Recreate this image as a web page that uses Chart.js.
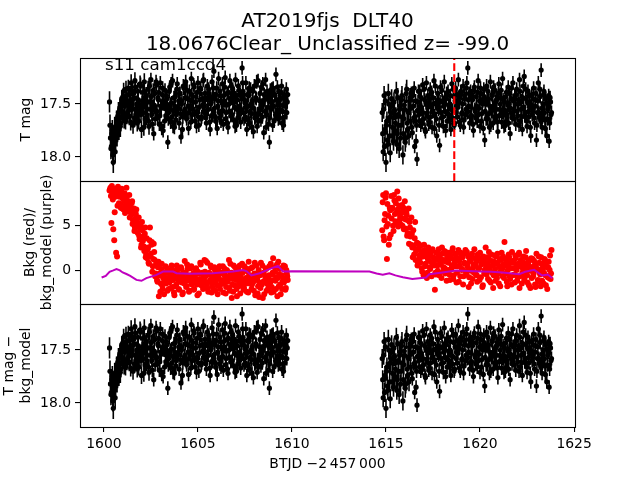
<!DOCTYPE html>
<html>
<head>
<meta charset="utf-8">
<script src="https://cdn.jsdelivr.net/npm/chart.js@4/dist/chart.umd.min.js"></script>
<style>
  html, body { margin: 0; padding: 0; background: #fff; }
  #c { display: block; }
</style>
</head>
<body>
<canvas id="c" width="640" height="480"></canvas>
<script>
// ---------------- DATA ----------------
const TITLE_LINES = ['AT2019fjs  DLT40', '18.0676Clear_ Unclassified z= -99.0'];
const ANNOTATION = 's11 cam1ccd4';
const X_LABEL = 'BTJD \u22122\u2009457\u2009000';
const Y_LABEL_TOP = 'T mag';
const Y_LABEL_MID = ['Bkg (red)/', 'bkg_model (purple)'];
const Y_LABEL_BOT = ['T mag \u2212', 'bkg_model'];

const X_RANGE = [1598.73, 1625.05];
const MAG_RANGE = [17.066, 18.226];
const BKG_RANGE = [-3.67, 9.95];
const MARK_TIME = 1618.63;   // red dashed vertical line

// sector 1, cadence group A
const SEG1_T = [
1600.30,1600.35,1600.40,1600.45,1600.50,1600.55,1600.60,1600.65,1600.70,1600.75,
1600.80,1600.85,1600.90,1600.95,1601.00,1601.05,1601.10,1601.15,1601.20,1601.25,
1601.30,1601.35,1601.40,1601.45,1601.50,1601.55,1601.60,1601.65,1601.70,1601.75,
1601.80,1601.85,1601.90,1601.95,1602.00,1602.05,1602.10,1602.15,1602.20,1602.25,
1602.30,1602.35,1602.40,1602.45,1602.50,1602.55,1602.60,1602.65,1602.70,1602.75,
1602.80,1602.85,1602.90,1602.95,1603.00,1603.05,1603.10,1603.15,1603.20,1603.25,
1603.30,1603.35,1603.40,1603.45,1603.50,1603.55,1603.60,1603.65,1603.70,1603.75,
1603.80,1603.85,1603.90,1603.95,1604.00,1604.05,1604.10,1604.15,1604.20,1604.25,
1604.30,1604.35,1604.40,1604.45,1604.50,1604.55,1604.60,1604.65,1604.70,1604.75,
1604.80,1604.85,1604.90,1604.95,1605.00,1605.05,1605.10,1605.15,1605.20,1605.25,
1605.30,1605.35,1605.40,1605.45,1605.50,1605.55,1605.60,1605.65,1605.70,1605.75,
1605.80,1605.85,1605.90,1605.95,1606.00,1606.05,1606.10,1606.15,1606.20,1606.25,
1606.30,1606.35,1606.40,1606.45,1606.50,1606.55,1606.60,1606.65,1606.70,1606.75,
1606.80,1606.85,1606.90,1606.95,1607.00,1607.05,1607.10,1607.15,1607.20,1607.25,
1607.30,1607.35,1607.40,1607.45,1607.50,1607.55,1607.60,1607.65,1607.70,1607.75,
1607.80,1607.85,1607.90,1607.95,1608.00,1608.05,1608.10,1608.15,1608.20,1608.25,
1608.30,1608.35,1608.40,1608.45,1608.50,1608.55,1608.60,1608.65,1608.70,1608.75,
1608.80,1608.85,1608.90,1608.95,1609.00,1609.05,1609.10,1609.15,1609.20,1609.25,
1609.30,1609.35,1609.40,1609.45,1609.50,1609.55,1609.60,1609.65,1609.70,1609.75];

const SEG1_MAG = [
17.48,17.82,17.90,17.75,18.05,17.86,17.95,17.70,17.80,17.62,
17.74,17.55,17.68,17.45,17.60,17.38,17.52,17.66,17.42,17.58,
17.35,17.62,17.48,17.30,17.55,17.70,17.44,17.28,17.60,17.50,
17.38,17.66,17.52,17.33,17.74,17.47,17.58,17.29,17.64,17.42,
17.55,17.36,17.71,17.48,17.27,17.60,17.52,17.78,17.40,17.57,
17.32,17.63,17.46,17.69,17.30,17.54,17.41,17.75,17.50,17.37,
17.61,17.45,17.86,17.58,17.34,17.67,17.49,17.28,17.56,17.72,
17.43,17.60,17.31,17.53,17.68,17.40,17.81,17.47,17.62,17.35,
17.55,17.29,17.64,17.45,17.73,17.38,17.52,17.26,17.60,17.48,
17.34,17.66,17.43,17.57,17.30,17.70,17.46,17.36,17.62,17.51,
17.27,17.58,17.44,17.68,17.33,17.55,17.40,17.74,17.48,17.29,
17.61,17.19,17.45,17.66,17.35,17.52,17.26,17.63,17.42,17.57,
17.31,17.69,17.47,17.25,17.58,17.40,17.72,17.50,17.28,17.61,
17.44,17.36,17.65,17.53,17.27,17.70,17.46,17.33,17.59,17.41,
17.55,17.16,17.38,17.64,17.49,17.30,17.74,17.52,17.42,17.68,
17.36,17.59,17.47,17.76,17.33,17.62,17.45,17.71,17.28,17.56,
17.40,17.65,17.51,17.31,17.77,17.46,17.27,17.60,17.43,17.69,
17.86,17.37,17.55,17.48,17.35,17.66,17.42,17.22,17.58,17.50,
17.38,17.63,17.45,17.33,17.57,17.70,17.41,17.52,17.36,17.48];

const SEG1_BKG = [
8.9,9.2,5.3,8.6,4.6,3.4,8.2,2.0,1.6,9.3,
7.5,8.8,7.0,9.1,8.0,6.8,8.6,7.3,9.2,7.8,
6.6,8.4,7.1,6.2,7.7,5.6,6.9,4.8,6.3,5.4,
4.2,5.9,3.5,5.0,2.9,4.5,3.8,2.2,4.8,1.8,
1.4,2.6,0.8,4.8,1.9,3.2,0.5,3.0,1.2,-0.3,
0.6,-1.2,1.0,-0.5,-2.3,0.2,-1.6,-0.8,-2.6,-0.2,
-1.4,0.3,-0.9,-2.0,-0.3,-1.1,0.6,-1.8,-0.6,-2.7,
-0.4,-1.5,0.1,-1.0,-2.1,-0.7,0.4,-1.3,-2.4,-0.2,
1.1,-0.9,-1.7,0.2,-0.5,-2.2,-1.0,0.5,-1.4,-0.3,
-2.0,-0.8,0.3,-1.5,-0.1,-2.5,-0.9,0.7,-1.2,-0.4,
-1.9,1.2,-0.6,-1.3,0.9,-2.3,-0.2,-1.0,0.4,-1.7,
-0.5,-2.1,0.1,-1.1,-0.3,-2.6,-0.8,0.5,-1.5,-0.2,
-1.2,-2.4,0.3,-0.7,-1.8,0.0,-1.0,1.2,-2.2,-0.4,
-3.0,-0.9,0.6,-1.6,-0.2,-2.0,-0.6,0.2,-1.3,-2.5,
-0.3,0.8,-1.1,-1.9,0.1,-0.8,-2.3,-0.1,1.0,-1.4,
-0.6,-2.0,0.4,-1.2,-0.3,-2.7,0.6,-0.9,-1.7,-2.9,
-0.5,0.9,-1.5,-3.0,-0.2,-1.1,0.3,-2.2,-0.7,-1.6,
0.5,-1.3,-2.4,-0.4,1.4,-1.0,-0.1,-2.0,0.7,-0.8,
-1.7,0.2,-2.6,-0.5,-1.2,0.6,-0.9,-2.1,0.1,-0.6];

// sector 1, cadence group B (in between group A)
const SEG1B_T = [
1600.325,1600.375,1600.425,1600.475,1600.525,1600.575,1600.625,1600.675,1600.725,1600.775,
1600.825,1600.875,1600.925,1600.975,1601.025,1601.075,1601.125,1601.175,1601.225,1601.275,
1601.325,1601.375,1601.425,1601.475,1601.525,1601.575,1601.625,1601.675,1601.725,1601.775,
1601.825,1601.875,1601.925,1601.975,1602.025,1602.075,1602.125,1602.175,1602.225,1602.275,
1602.325,1602.375,1602.425,1602.475,1602.525,1602.575,1602.625,1602.675,1602.725,1602.775,
1602.825,1602.875,1602.925,1602.975,1603.025,1603.075,1603.125,1603.175,1603.225,1603.275,
1603.325,1603.375,1603.425,1603.475,1603.525,1603.575,1603.625,1603.675,1603.725,1603.775,
1603.825,1603.875,1603.925,1603.975,1604.025,1604.075,1604.125,1604.175,1604.225,1604.275,
1604.325,1604.375,1604.425,1604.475,1604.525,1604.575,1604.625,1604.675,1604.725,1604.775,
1604.825,1604.875,1604.925,1604.975,1605.025,1605.075,1605.125,1605.175,1605.225,1605.275,
1605.325,1605.375,1605.425,1605.475,1605.525,1605.575,1605.625,1605.675,1605.725,1605.775,
1605.825,1605.875,1605.925,1605.975,1606.025,1606.075,1606.125,1606.175,1606.225,1606.275,
1606.325,1606.375,1606.425,1606.475,1606.525,1606.575,1606.625,1606.675,1606.725,1606.775,
1606.825,1606.875,1606.925,1606.975,1607.025,1607.075,1607.125,1607.175,1607.225,1607.275,
1607.325,1607.375,1607.425,1607.475,1607.525,1607.575,1607.625,1607.675,1607.725,1607.775,
1607.825,1607.875,1607.925,1607.975,1608.025,1608.075,1608.125,1608.175,1608.225,1608.275,
1608.325,1608.375,1608.425,1608.475,1608.525,1608.575,1608.625,1608.675,1608.725,1608.775,
1608.825,1608.875,1608.925,1608.975,1609.025,1609.075,1609.125,1609.175,1609.225,1609.275,
1609.325,1609.375,1609.425,1609.475,1609.525,1609.575,1609.625,1609.675,1609.725,1609.775];

const SEG1B_MAG = [
17.70,17.92,17.78,17.98,17.88,17.72,17.84,17.66,17.76,17.58,
17.64,17.71,17.50,17.57,17.43,17.65,17.49,17.36,17.61,17.47,
17.56,17.41,17.67,17.52,17.38,17.45,17.63,17.34,17.54,17.68,
17.46,17.57,17.31,17.60,17.50,17.39,17.72,17.44,17.53,17.62,
17.48,17.66,17.33,17.55,17.43,17.69,17.37,17.51,17.64,17.29,
17.57,17.44,17.39,17.61,17.52,17.73,17.35,17.47,17.66,17.54,
17.42,17.53,17.64,17.38,17.50,17.31,17.62,17.71,17.44,17.52,
17.65,17.36,17.55,17.47,17.40,17.59,17.50,17.74,17.33,17.58,
17.44,17.61,17.37,17.52,17.58,17.46,17.67,17.41,17.55,17.32,
17.59,17.48,17.71,17.39,17.62,17.53,17.35,17.64,17.45,17.28,
17.52,17.40,17.63,17.56,17.46,17.36,17.67,17.50,17.61,17.43,
17.35,17.54,17.62,17.41,17.73,17.47,17.58,17.38,17.66,17.49,
17.56,17.42,17.34,17.64,17.51,17.68,17.39,17.57,17.45,17.33,
17.60,17.49,17.40,17.71,17.44,17.55,17.63,17.37,17.52,17.67,
17.43,17.30,17.58,17.46,17.62,17.53,17.41,17.65,17.35,17.57,
17.50,17.72,17.38,17.54,17.63,17.44,17.29,17.59,17.66,17.47,
17.55,17.34,17.62,17.49,17.41,17.57,17.72,17.38,17.53,17.45,
17.63,17.48,17.36,17.70,17.52,17.41,17.60,17.46,17.34,17.64,
17.47,17.55,17.39,17.68,17.51,17.43,17.62,17.46,17.58,17.41];

const SEG1B_BKG = [
9.0,8.3,9.4,7.9,8.8,6.5,9.1,8.5,7.2,8.9,
8.2,7.4,9.0,6.9,8.4,7.8,6.4,8.1,7.0,7.6,
7.2,5.9,6.7,7.5,5.2,6.4,4.4,5.8,6.8,4.9,
5.3,3.9,4.6,2.6,5.4,3.3,2.7,4.1,1.5,3.6,
2.4,0.9,3.4,1.6,2.9,-0.1,1.3,2.1,-0.6,0.7,
-1.0,0.4,-2.8,-0.3,-1.4,0.8,-2.0,-0.6,-1.1,0.5,
-0.8,-2.2,0.0,-1.3,-0.5,-1.9,0.2,-1.0,-2.4,-0.1,
-1.7,0.6,-0.9,-2.0,-0.4,-1.2,0.2,-2.6,-0.7,-1.4,
-0.2,-1.8,0.7,-1.1,-2.3,-0.6,0.3,-1.5,-0.9,-2.1,
-0.6,0.2,-1.3,-2.7,-0.3,-1.0,0.9,-1.6,-0.2,-2.0,
-0.9,-0.1,1.1,-1.5,-2.0,-0.4,-1.2,0.6,-2.4,-0.7,
-1.3,0.4,-2.2,-0.6,-1.6,0.2,-0.9,-2.0,-0.3,-1.1,
0.5,-1.4,-0.5,-2.5,0.1,-1.2,-0.6,-1.9,0.8,-0.2,
-1.5,-2.3,-0.4,0.4,-1.0,-2.8,-0.1,-1.7,0.6,-0.8,
-1.6,-0.2,-2.1,0.5,-0.9,-1.4,0.2,-2.4,-0.5,-1.1,
0.3,-1.5,-0.7,-2.2,0.9,-1.0,-0.4,-2.5,0.1,-1.3,
-1.9,-0.3,0.6,-1.2,-2.6,-0.6,0.2,-1.4,-2.0,-0.5,
-1.0,0.8,-1.8,-0.2,-2.3,0.4,-1.1,-0.7,-2.8,1.0,
-0.4,-1.5,0.3,-2.0,-0.8,-1.3,0.5,-1.9,-0.3,-1.0];

// sector 2, cadence group A
const SEG2_T = [
1614.80,1614.85,1614.90,1614.95,1615.00,1615.05,1615.10,1615.15,1615.20,1615.25,
1615.30,1615.35,1615.40,1615.45,1615.50,1615.55,1615.60,1615.65,1615.70,1615.75,
1615.80,1615.85,1615.90,1615.95,1616.00,1616.05,1616.10,1616.15,1616.20,1616.25,
1616.30,1616.35,1616.40,1616.45,1616.50,1616.55,1616.60,1616.65,1616.70,1616.75,
1616.80,1616.85,1616.90,1616.95,1617.00,1617.05,1617.10,1617.15,1617.20,1617.25,
1617.30,1617.35,1617.40,1617.45,1617.50,1617.55,1617.60,1617.65,1617.70,1617.75,
1617.80,1617.85,1617.90,1617.95,1618.00,1618.05,1618.10,1618.15,1618.20,1618.25,
1618.30,1618.35,1618.40,1618.45,1618.50,1618.55,1618.60,1618.65,1618.70,1618.75,
1618.80,1618.85,1618.90,1618.95,1619.00,1619.05,1619.10,1619.15,1619.20,1619.25,
1619.30,1619.35,1619.40,1619.45,1619.50,1619.55,1619.60,1619.65,1619.70,1619.75,
1619.80,1619.85,1619.90,1619.95,1620.00,1620.05,1620.10,1620.15,1620.20,1620.25,
1620.30,1620.35,1620.40,1620.45,1620.50,1620.55,1620.60,1620.65,1620.70,1620.75,
1620.80,1620.85,1620.90,1620.95,1621.00,1621.05,1621.10,1621.15,1621.20,1621.25,
1621.30,1621.35,1621.40,1621.45,1621.50,1621.55,1621.60,1621.65,1621.70,1621.75,
1621.80,1621.85,1621.90,1621.95,1622.00,1622.05,1622.10,1622.15,1622.20,1622.25,
1622.30,1622.35,1622.40,1622.45,1622.50,1622.55,1622.60,1622.65,1622.70,1622.75,
1622.80,1622.85,1622.90,1622.95,1623.00,1623.05,1623.10,1623.15,1623.20,1623.25,
1623.30,1623.35,1623.40,1623.45,1623.50,1623.55,1623.60,1623.65,1623.70,1623.75,1623.80];

const SEG2_MAG = [
17.58,17.95,17.42,17.74,18.05,17.66,17.88,17.50,17.80,17.62,
17.45,17.72,17.85,17.56,17.68,17.38,17.78,17.60,17.92,17.52,
17.70,17.42,17.98,17.64,17.55,17.82,17.36,17.74,17.58,17.47,
17.66,17.40,17.77,17.52,17.35,17.62,17.85,18.02,17.48,17.60,
17.38,17.70,17.55,17.32,17.64,17.46,17.76,17.30,17.58,17.50,
17.67,17.36,17.53,17.72,17.44,17.28,17.61,17.49,17.80,17.40,
17.55,17.89,17.34,17.63,17.47,17.71,17.29,17.57,17.45,17.66,
17.38,17.60,17.50,17.74,17.31,17.56,17.43,17.68,17.35,17.52,
17.62,17.27,17.48,17.70,17.40,17.58,17.33,17.65,17.45,17.55,
17.30,17.16,17.52,17.68,17.38,17.61,17.46,17.75,17.34,17.57,
17.43,17.66,17.28,17.54,17.71,17.40,17.59,17.47,17.36,17.84,
17.50,17.33,17.64,17.45,17.72,17.29,17.57,17.42,17.68,17.51,
17.37,17.62,17.46,17.76,17.31,17.55,17.44,17.67,17.26,17.58,
17.48,17.70,17.39,17.60,17.34,17.53,17.78,17.45,17.63,17.30,
17.56,17.42,17.69,17.36,17.61,17.50,17.27,17.66,17.47,17.74,
17.33,17.24,17.58,17.45,17.71,17.38,17.62,17.49,17.80,17.41,
17.55,17.35,17.68,17.46,17.84,17.58,17.30,17.62,17.43,17.18,
17.72,17.50,17.38,17.65,17.45,17.80,17.55,17.42,17.68,17.48,17.58];

const SEG2_BKG = [
4.5,8.4,3.4,6.3,8.6,1.3,5.2,2.9,7.0,4.0,
5.8,6.9,4.4,7.8,5.5,6.4,8.8,4.9,7.2,6.0,
5.1,7.3,6.6,4.6,7.7,5.7,6.2,4.2,6.9,5.4,
3.8,5.9,2.6,4.5,1.8,5.4,2.2,3.1,0.9,2.5,
1.4,2.8,0.3,1.9,-0.5,2.3,0.8,1.6,-0.2,2.6,
1.1,0.2,2.1,0.9,1.5,0.6,-2.1,-0.4,1.2,0.0,
2.4,0.7,1.3,-0.8,1.9,0.4,2.2,-0.3,1.0,1.7,
0.1,2.0,-1.0,1.4,0.6,2.5,-0.5,0.9,1.8,-1.3,
0.5,2.3,1.1,-0.6,1.6,0.2,-1.5,1.9,0.8,-0.1,
2.1,0.4,-1.8,1.3,0.0,1.7,-0.9,0.7,2.4,-0.3,
1.0,-1.2,1.5,0.3,2.0,-0.7,0.9,-1.6,1.2,0.1,
2.6,-0.4,0.8,1.4,-1.1,0.5,1.8,-0.2,-1.9,1.0,
0.2,1.6,-0.8,0.9,-1.4,1.3,0.0,2.0,-0.6,0.7,
3.2,-0.3,1.1,-1.7,0.6,1.5,-0.9,0.3,2.1,-0.5,
0.9,-1.3,1.4,0.1,-0.7,1.8,-1.9,0.5,1.0,-0.2,
1.6,-1.0,0.4,2.2,-0.5,0.8,-1.6,1.2,0.0,-0.8,
1.3,-0.3,0.6,-1.8,1.9,0.2,-1.2,0.9,-0.4,1.5,
-1.1,0.7,-0.2,1.2,-1.6,0.4,-0.7,1.0,0.1,-0.9,2.3];

// sector 2, cadence group B (in between group A)
const SEG2B_T = [
1614.825,1614.875,1614.925,1614.975,1615.025,1615.075,1615.125,1615.175,1615.225,1615.275,
1615.325,1615.375,1615.425,1615.475,1615.525,1615.575,1615.625,1615.675,1615.725,1615.775,
1615.825,1615.875,1615.925,1615.975,1616.025,1616.075,1616.125,1616.175,1616.225,1616.275,
1616.325,1616.375,1616.425,1616.475,1616.525,1616.575,1616.625,1616.675,1616.725,1616.775,
1616.825,1616.875,1616.925,1616.975,1617.025,1617.075,1617.125,1617.175,1617.225,1617.275,
1617.325,1617.375,1617.425,1617.475,1617.525,1617.575,1617.625,1617.675,1617.725,1617.775,
1617.825,1617.875,1617.925,1617.975,1618.025,1618.075,1618.125,1618.175,1618.225,1618.275,
1618.325,1618.375,1618.425,1618.475,1618.525,1618.575,1618.625,1618.675,1618.725,1618.775,
1618.825,1618.875,1618.925,1618.975,1619.025,1619.075,1619.125,1619.175,1619.225,1619.275,
1619.325,1619.375,1619.425,1619.475,1619.525,1619.575,1619.625,1619.675,1619.725,1619.775,
1619.825,1619.875,1619.925,1619.975,1620.025,1620.075,1620.125,1620.175,1620.225,1620.275,
1620.325,1620.375,1620.425,1620.475,1620.525,1620.575,1620.625,1620.675,1620.725,1620.775,
1620.825,1620.875,1620.925,1620.975,1621.025,1621.075,1621.125,1621.175,1621.225,1621.275,
1621.325,1621.375,1621.425,1621.475,1621.525,1621.575,1621.625,1621.675,1621.725,1621.775,
1621.825,1621.875,1621.925,1621.975,1622.025,1622.075,1622.125,1622.175,1622.225,1622.275,
1622.325,1622.375,1622.425,1622.475,1622.525,1622.575,1622.625,1622.675,1622.725,1622.775,
1622.825,1622.875,1622.925,1622.975,1623.025,1623.075,1623.125,1623.175,1623.225,1623.275,
1623.325,1623.375,1623.425,1623.475,1623.525,1623.575,1623.625,1623.675,1623.725,1623.775];

const SEG2B_MAG = [
17.78,17.55,17.90,17.47,17.70,17.84,17.40,17.63,17.96,17.52,
17.80,17.58,17.48,17.75,17.62,17.88,17.44,17.70,17.55,17.82,
17.46,17.62,17.78,17.51,17.86,17.40,17.68,17.57,17.80,17.44,
17.54,17.72,17.42,17.63,17.90,17.47,17.70,17.56,17.38,17.66,
17.52,17.44,17.67,17.58,17.36,17.74,17.49,17.61,17.42,17.69,
17.45,17.62,17.39,17.57,17.50,17.73,17.33,17.64,17.53,17.46,
17.70,17.48,17.58,17.37,17.62,17.52,17.44,17.75,17.40,17.59,
17.51,17.66,17.42,17.55,17.63,17.36,17.70,17.47,17.58,17.41,
17.53,17.44,17.67,17.38,17.59,17.50,17.72,17.42,17.60,17.35,
17.58,17.46,17.40,17.62,17.53,17.44,17.69,17.37,17.55,17.63,
17.52,17.39,17.60,17.47,17.35,17.66,17.50,17.73,17.43,17.57,
17.64,17.46,17.38,17.59,17.52,17.70,17.41,17.55,17.34,17.62,
17.48,17.55,17.67,17.40,17.61,17.50,17.37,17.58,17.46,17.71,
17.56,17.43,17.62,17.51,17.68,17.40,17.54,17.35,17.60,17.47,
17.64,17.50,17.41,17.57,17.46,17.70,17.38,17.55,17.62,17.44,
17.53,17.61,17.36,17.66,17.48,17.57,17.42,17.72,17.52,17.60,
17.45,17.63,17.52,17.40,17.70,17.47,17.58,17.36,17.65,17.54,
17.62,17.41,17.58,17.73,17.49,17.64,17.52,17.85,17.44,17.60];

const SEG2B_BKG = [
7.6,3.8,5.6,8.1,4.9,7.4,6.1,3.6,6.7,8.3,
7.0,5.0,8.4,6.3,7.5,5.3,6.8,8.0,5.6,7.1,
6.4,5.0,7.0,5.8,4.7,6.5,3.9,5.6,3.0,4.8,
2.9,4.1,1.5,2.8,3.6,1.2,2.4,0.6,3.0,1.7,
0.9,2.1,-0.1,1.6,2.9,0.5,1.8,-0.8,1.3,2.2,
0.4,1.7,-0.6,2.4,0.9,1.4,-0.2,2.0,0.6,1.5,
-0.5,1.8,0.8,2.6,-0.1,1.2,0.3,2.1,-1.1,1.5,
0.9,-0.4,1.7,0.2,2.2,-0.9,1.3,0.5,1.9,-0.2,
1.4,-1.2,0.6,2.0,0.1,1.5,-0.6,0.9,2.3,-0.4,
0.8,1.6,-0.7,1.1,-1.4,1.9,0.3,-0.2,1.4,0.6,
-0.5,1.8,0.2,-1.0,1.3,0.7,-1.8,1.6,-0.3,0.9,
0.4,1.5,-0.9,2.1,0.0,-1.3,1.1,0.6,-0.5,1.7,
-1.1,0.8,1.9,-0.3,0.5,-1.7,1.2,0.2,1.6,-0.8,
0.6,1.3,-1.2,0.1,1.8,-0.6,0.9,-1.5,1.1,0.3,
-0.4,1.7,0.4,-1.1,0.8,2.0,-0.6,1.2,-1.4,0.3,
0.9,-0.7,1.5,0.0,-1.3,1.0,0.5,-1.9,1.4,0.2,
-0.6,1.1,-1.5,0.7,0.2,-1.0,1.6,-0.2,-1.7,0.8,
0.3,-1.4,1.3,-0.5,0.9,-2.0,0.4,-0.8,1.7,-0.3];

// bottom panel (T mag - bkg_model) reads the same as the top panel
const SEG1_MAG_CORR = SEG1_MAG, SEG1B_MAG_CORR = SEG1B_MAG;
const SEG2_MAG_CORR = SEG2_MAG, SEG2B_MAG_CORR = SEG2B_MAG;

// magnitude uncertainty, read per time range: [start time, error]
const ERR_STEPS = [[1600.0, 0.10], [1600.9, 0.08], [1602.5, 0.065], [1614.0, 0.09], [1616.3, 0.065]];

// background model (purple)
const MODEL_T = [1599.88,1600.10,1600.30,1600.50,1600.67,1600.85,1601.00,1601.20,1601.40,1601.73,
  1602.00,1602.26,1602.80,1603.15,1603.68,1603.86,1604.56,1605.20,1605.80,1606.86,1607.40,1607.60,
  1607.84,1608.28,1608.80,1609.25,1609.52,1610.00,1614.12,1614.50,1614.83,1615.18,1615.50,1615.90,
  1616.40,1617.13,1617.30,1618.00,1618.72,1619.96,1620.60,1621.20,1622.08,1622.40,1622.88,1623.30,
  1623.60,1623.85];
const MODEL_V = [-0.74,-0.55,-0.10,0.05,0.19,0.05,-0.18,-0.35,-0.55,-1.00,
  -1.10,-0.80,-0.44,-0.07,-0.07,-0.26,-0.33,-0.28,-0.26,-0.07,0.10,-0.05,
  -0.50,-0.26,0.19,0.55,-0.07,-0.05,-0.07,-0.30,-0.44,-0.26,-0.50,-0.70,
  -0.90,-0.74,-0.37,-0.18,0.04,-0.07,-0.10,-0.18,-0.37,-0.10,0.11,-0.52,
  -0.40,-0.81];

// ---------------- BUILD ----------------
const FONT = 'DejaVu Sans';
function errAt(t) {
  let e = ERR_STEPS[0][1];
  for (const [t0, v] of ERR_STEPS) if (t >= t0) e = v;
  return e;
}
function pts(ts, vs, withErr) {
  return ts.map((t, i) => withErr ? {x: t, y: vs[i], e: errAt(t)} : {x: t, y: vs[i]});
}
const topPts = [].concat(pts(SEG1_T, SEG1_MAG, true), pts(SEG1B_T, SEG1B_MAG, true),
  pts(SEG2_T, SEG2_MAG, true), pts(SEG2B_T, SEG2B_MAG, true));
const botPts = [].concat(pts(SEG1_T, SEG1_MAG_CORR, true), pts(SEG1B_T, SEG1B_MAG_CORR, true),
  pts(SEG2_T, SEG2_MAG_CORR, true), pts(SEG2B_T, SEG2B_MAG_CORR, true));
const bkgPts = [].concat(pts(SEG1_T, SEG1_BKG), pts(SEG1B_T, SEG1B_BKG),
  pts(SEG2_T, SEG2_BKG), pts(SEG2B_T, SEG2B_BKG));
const modelPts = pts(MODEL_T, MODEL_V, false);

const errorBars = {
  id: 'errorBars',
  beforeDatasetsDraw(chart) {
    const {ctx, chartArea: a} = chart;
    const xs = chart.scales.x;
    ctx.save();
    ctx.beginPath(); ctx.rect(a.left, a.top, a.right - a.left, a.bottom - a.top); ctx.clip();
    ctx.strokeStyle = '#000'; ctx.lineWidth = 1.6;
    chart.data.datasets.forEach(ds => {
      if (!ds.errorBars) return;
      const ys = chart.scales[ds.yAxisID];
      ctx.beginPath();
      ds.data.forEach(p => {
        const px = xs.getPixelForValue(p.x);
        ctx.moveTo(px, ys.getPixelForValue(p.y - p.e));
        ctx.lineTo(px, ys.getPixelForValue(p.y + p.e));
      });
      ctx.stroke();
    });
    ctx.restore();
  }
};

const frames = {
  id: 'frames',
  afterDatasetsDraw(chart) {
    const {ctx, chartArea: a} = chart;
    const xs = chart.scales.x;
    const yt = chart.scales.yTop;
    ctx.save();
    const mx = xs.getPixelForValue(MARK_TIME);
    ctx.strokeStyle = '#ff0000'; ctx.lineWidth = 2.1; ctx.setLineDash([7.7, 3.3]);
    ctx.beginPath(); ctx.moveTo(mx, yt.bottom); ctx.lineTo(mx, yt.top); ctx.stroke();
    ctx.setLineDash([]);
    ctx.strokeStyle = '#000'; ctx.lineWidth = 1.1;
    ['yTop', 'yMid', 'yBot'].forEach(id => {
      const s = chart.scales[id];
      ctx.strokeRect(Math.round(a.left) + 0.5, Math.round(s.top) + 0.5,
        Math.round(a.right - a.left), Math.round(s.bottom - s.top));
    });
    ctx.restore();
  },
  afterDraw(chart) {
    const {ctx, chartArea: a} = chart;
    ctx.save();
    ctx.fillStyle = '#000';
    ctx.textAlign = 'center'; ctx.textBaseline = 'alphabetic';
    ctx.font = '20px "' + FONT + '"';
    const cx = (a.left + a.right) / 2;
    TITLE_LINES.forEach((l, i) => ctx.fillText(l, cx, a.top - 31 + i * 23));
    ctx.textAlign = 'left';
    ctx.font = '16.7px "' + FONT + '"';
    ctx.fillText(ANNOTATION, a.left + 25, a.top + 12);
    ctx.restore();
  }
};

const tickFont = {family: FONT, size: 13.9};
function yAxis(min, max, step, reverse, title, padTop, fmt) {
  return {
    type: 'linear', position: 'left', stack: 'panels', stackWeight: 1,
    min, max, reverse,
    ticks: {stepSize: step, includeBounds: false, autoSkip: false, font: tickFont, color: '#000', padding: 4,
      callback: fmt},
    grid: {drawOnChartArea: false, drawTicks: true, tickLength: 5, color: '#000', lineWidth: 1.1},
    border: {display: false},
    title: {display: true, text: title, color: '#000', font: {family: FONT, size: 13.9, lineHeight: 1.2},
      padding: {top: padTop, bottom: 0}},
    afterFit(s) { s.width = 80; }
  };
}

new Chart(document.getElementById('c'), {
  type: 'scatter',
  data: {
    datasets: [
      {data: modelPts, yAxisID: 'yMid', showLine: true, borderColor: '#bf00bf', borderWidth: 2,
        pointRadius: 0, tension: 0, order: 0},
      {data: bkgPts, yAxisID: 'yMid', pointRadius: 3, pointBackgroundColor: '#ff0000',
        pointBorderWidth: 0, borderColor: '#ff0000', order: 1},
      {data: topPts, yAxisID: 'yTop', errorBars: true, pointRadius: 2.6, pointBackgroundColor: '#000',
        pointBorderWidth: 0, borderColor: '#000', order: 2},
      {data: botPts, yAxisID: 'yBot', errorBars: true, pointRadius: 2.6, pointBackgroundColor: '#000',
        pointBorderWidth: 0, borderColor: '#000', order: 3}
    ]
  },
  options: {
    responsive: false, animation: false, devicePixelRatio: 1,
    layout: {padding: {top: 58, right: 65, left: 0, bottom: 0}},
    plugins: {legend: {display: false}, tooltip: {enabled: false}, title: {display: false}},
    scales: {
      x: {
        type: 'linear', position: 'bottom', min: X_RANGE[0], max: X_RANGE[1],
        ticks: {stepSize: 5, includeBounds: false, font: tickFont, color: '#000', padding: 4, maxRotation: 0,
          callback: v => String(v)},
        grid: {drawOnChartArea: false, drawTicks: true, tickLength: 5, color: '#000', lineWidth: 1.1},
        border: {display: false},
        title: {display: true, text: X_LABEL, color: '#000', font: {family: FONT, size: 13.9, lineHeight: 1.2},
          padding: {top: 0, bottom: 7.6}},
        afterFit(s) { s.height = 53; }
      },
      // defined bottom-to-top so the stack shows top, middle, bottom
      yBot: yAxis(MAG_RANGE[0], MAG_RANGE[1], 0.5, true, Y_LABEL_BOT, 1.0, v => v.toFixed(1)),
      yMid: yAxis(BKG_RANGE[0], BKG_RANGE[1], 5, false, Y_LABEL_MID, 22.4, v => String(v)),
      yTop: yAxis(MAG_RANGE[0], MAG_RANGE[1], 0.5, true, Y_LABEL_TOP, 18.3, v => v.toFixed(1))
    }
  },
  plugins: [errorBars, frames]
});
</script>
</body>
</html>
